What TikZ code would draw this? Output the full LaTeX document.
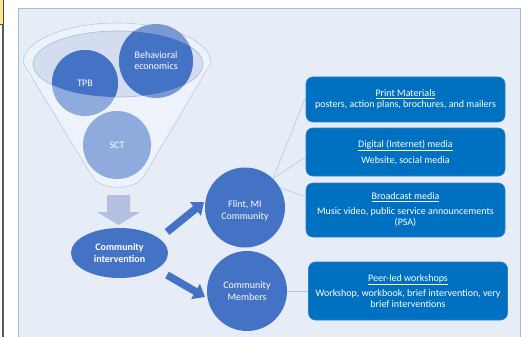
\documentclass[tikz,border=0pt]{standalone}
\usepackage{fontspec}
\setmainfont{Carlito}
\usetikzlibrary{shapes.geometric,arrows.meta,calc}
\definecolor{panelfill}{HTML}{E7EDF7}
\definecolor{panelline}{HTML}{A8B9DB}
\definecolor{funnelfill}{HTML}{EEF2FA}
\definecolor{funnelline}{HTML}{B9C9E6}
\definecolor{innerfill}{HTML}{D4DCEF}
\definecolor{innerline}{HTML}{A6B9E0}
\definecolor{darkc}{HTML}{4472C4}
\definecolor{lightc}{HTML}{8FAADC}
\definecolor{midc}{HTML}{7A98D4}
\definecolor{downc}{HTML}{B3C0E2}
\definecolor{boxc}{HTML}{0070C0}
\definecolor{boxedge}{HTML}{2A80C8}
\definecolor{connc}{HTML}{B4C7E7}
\definecolor{tabc}{HTML}{FFE28A}
\begin{document}
\begin{tikzpicture}[x=1pt,y=-1pt,
  every node/.style={font=\fontsize{10}{11}\selectfont, text=white, inner sep=0pt},
  mediabox/.style={rectangle, rounded corners=7pt, fill=boxc, draw=boxedge, line width=0.6pt, minimum width=199pt, align=center},
  bigcircle/.style={circle, fill=darkc, minimum size=80pt, align=center},
  conn/.style={draw=connc, line width=0.6pt},
  blockarrow/.style={draw=darkc, line width=7.5pt, -{Triangle[length=11pt,width=17pt]}},
  lbl/.style={align=center}
]
\useasboundingbox (0,0) rectangle (528,337);
\fill[white] (0,0) rectangle (528,337);
% cropping artefacts at left
\fill[tabc, draw=black!70, line width=0.5pt] (-1,-1) rectangle (3.5,24);
\draw[black!65, line width=1.6pt] (3.2,24) -- (3.2,338);
% panel
\draw[panelline, fill=panelfill, line width=0.8pt] (18,8) rectangle (520,350);
% funnel
\path[fill=funnelfill] (117,63) ellipse [x radius=94, y radius=40];
\path[fill=funnelfill] (23,63) -- (92,176) .. controls (100,191) and (136,191) .. (144,176) -- (211,63) -- cycle;
\draw[funnelline, line width=0.6pt] (211,63) arc[start angle=0, end angle=-180, x radius=94, y radius=40] -- (92,176) .. controls (100,191) and (136,191) .. (144,176) -- cycle;
\draw[innerline, fill=innerfill, line width=0.6pt] (118,64) ellipse [x radius=85, y radius=33];
% theory circles
\fill[lightc] (85,83) circle [radius=33];
\fill[midc] (156,61) circle [radius=37];
\fill[lightc] (117,145) circle [radius=34];
\begin{scope}
  \clip (118,64) ellipse [x radius=85, y radius=33];
  \fill[darkc] (85,83) circle [radius=33];
  \fill[darkc] (156,61) circle [radius=37];
\end{scope}
\node[lbl] (tpb) at (85,83) {TPB};
\node[lbl] (be) at (156,61) {Behavioral\\economics};
\node[lbl] (sct) at (117,145) {SCT};
% down arrow
\fill[downc] (107,195) -- (130,195) -- (130,212) -- (140,212) -- (118.5,225) -- (97,212) -- (107,212) -- cycle;
% community intervention
\node[ellipse, fill=darkc, minimum width=97pt, minimum height=50pt, align=center, font=\fontsize{10}{12}\selectfont\bfseries] (ci) at (119.5,253) {Community\\intervention};
% target circles
\node[bigcircle] (fl) at (245,207.5) {};
\node[lbl, font=\fontsize{10}{12}\selectfont] (fltext) at (245,211) {Flint, MI\\Community};
\node[bigcircle, font=\fontsize{10}{12}\selectfont] (cm) at (247,291) {Community\\Members};
% block arrows
\coordinate (a1s) at (167,232);
\coordinate (a1e) at (204,202);
\coordinate (a2s) at (167,275);
\coordinate (a2e) at (205,297);
\draw[blockarrow] (a1s) -- (a1e);
\draw[blockarrow] (a2s) -- (a2e);
% media boxes
\node[mediabox, minimum height=45pt] (b1) at (405.5,99.5) {\underline{Print Materials}\\posters, action plans, brochures, and mailers};
\node[mediabox, minimum height=48pt] (b2) at (405.5,152) {\underline{Digital (Internet) media}\\[5pt]Website, social media};
\node[mediabox, minimum height=54pt] (b3) at (405.5,210) {\underline{Broadcast media}\\[4pt]Music video, public service announcements\\(PSA)};
\node[mediabox, minimum height=58pt] (b4) at (408,291) {\underline{Peer-led workshops}\\[4pt]Workshop, workbook, brief intervention, very\\brief interventions};
% connectors
\draw[conn] (fl.46) -- ($(b1.west)+(0,-2.5)$);
\draw[conn] (fl.46) -- ($(b2.west)+(0,5)$);
\draw[conn] (fl.30) -- ($(b3.west)+(0,-13)$);
\draw[conn] (cm.east) -- (b4.west);
\end{tikzpicture}
\end{document}
